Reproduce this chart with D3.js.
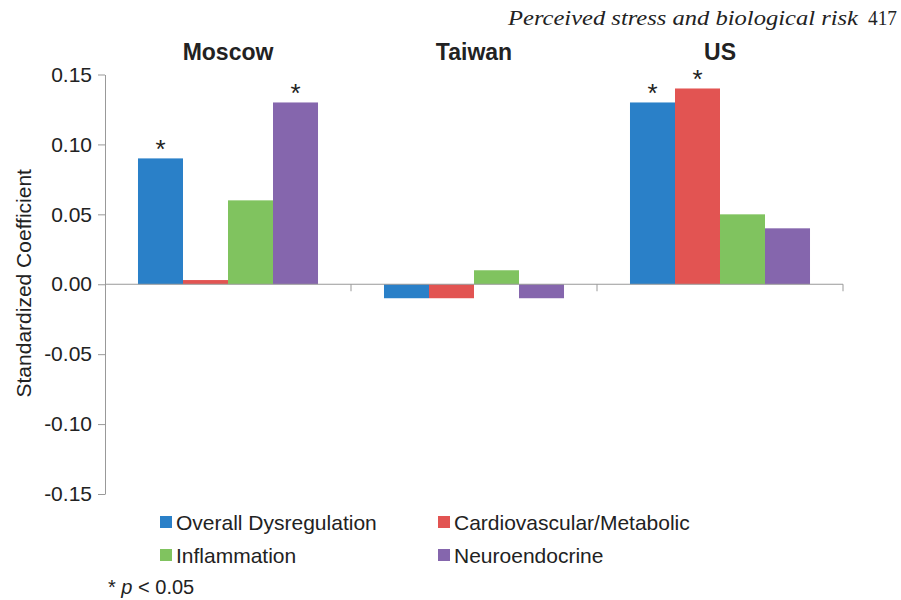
<!DOCTYPE html>
<html><head><meta charset="utf-8">
<script src="https://cdn.jsdelivr.net/npm/d3@7"></script>
<style>body{margin:0;background:#fff}</style>
</head><body>
<svg id="c" width="901" height="600"></svg>
<script>
const groups = ["Moscow", "Taiwan", "US"];
const seriesNames = ["Overall Dysregulation", "Cardiovascular/Metabolic", "Inflammation", "Neuroendocrine"];
const overall = [0.09, -0.01, 0.13];
const cardio = [0.003, -0.01, 0.14];
const inflam = [0.06, 0.01, 0.05];
const neuro = [0.13, -0.01, 0.04];
const significant = [[true, false, false, true], [false, false, false, false], [true, true, false, false]];
const yTicks = [0.15, 0.10, 0.05, 0.00, -0.05, -0.10, -0.15];
const colors = ["#2a80c8", "#e25452", "#80c35f", "#8566ad"];

(function () {
const series = [overall, cardio, inflam, neuro];
const svg = d3.select("#c");
const mLeft = 105, mRight = 843, mTop = 74.5, mBottom = 494;
const sans = "Liberation Sans, Arial, sans-serif";
const ink = "#222";

const y = d3.scaleLinear().domain([-0.15, 0.15]).range([mBottom, mTop]);
const x0 = d3.scaleBand().domain(groups).range([mLeft, mRight]).padding(0);
const x1 = d3.scaleBand().domain(d3.range(4)).range([0, x0.bandwidth()]).paddingInner(0).paddingOuter(0.733);

// header
svg.append("text").attr("x", 508).attr("y", 25)
  .attr("font-family", "Liberation Serif, Times New Roman, serif").attr("font-style", "italic")
  .attr("font-size", 22).attr("fill", ink)
  .attr("textLength", 350).attr("lengthAdjust", "spacingAndGlyphs")
  .text("Perceived stress and biological risk");
svg.append("text").attr("x", 868).attr("y", 25)
  .attr("font-family", "Liberation Serif, Times New Roman, serif")
  .attr("font-size", 22).attr("fill", ink)
  .attr("textLength", 29).attr("lengthAdjust", "spacingAndGlyphs").text("417");

// group titles
svg.selectAll(".gt").data(groups).enter().append("text")
  .attr("x", d => x0(d) + x0.bandwidth() / 2).attr("y", 60)
  .attr("text-anchor", "middle").attr("font-family", sans).attr("font-weight", "bold")
  .attr("font-size", 23).attr("fill", ink).text(d => d);

// bars
const data = [];
groups.forEach((g, gi) => series.forEach((s, si) => data.push({g, gi, si, v: s[gi], sig: significant[gi][si]})));
svg.selectAll(".bar").data(data).enter().append("rect")
  .attr("x", d => x0(d.g) + x1(d.si))
  .attr("width", x1.bandwidth())
  .attr("y", d => y(Math.max(0, d.v)))
  .attr("height", d => Math.abs(y(d.v) - y(0)))
  .attr("fill", d => colors[d.si]);

// asterisks
svg.selectAll(".ast").data(data.filter(d => d.sig)).enter().append("text")
  .attr("x", d => x0(d.g) + x1(d.si) + x1.bandwidth() / 2)
  .attr("y", d => y(d.v) - 0)
  .attr("text-anchor", "middle").attr("font-family", sans).attr("font-size", 26)
  .attr("fill", ink).text("*");

// y axis
const yAxis = d3.axisLeft(y).tickValues(yTicks).tickFormat(d => d3.format(".2f")(d).replace("\u2212", "-")).tickSize(7).tickSizeOuter(0);
const ya = svg.append("g").attr("transform", `translate(${mLeft},0)`).call(yAxis);
ya.select(".domain").attr("stroke", "#999");
ya.selectAll(".tick line").attr("stroke", "#999");
ya.selectAll(".tick text").attr("font-family", sans).attr("font-size", 21).attr("fill", ink).attr("x", -13);

// x axis at zero
const xa = svg.append("g").attr("transform", `translate(0,${y(0)})`);
xa.append("line").attr("x1", mLeft).attr("x2", mRight).attr("stroke", "#999");
xa.selectAll(".xt").data(groups).enter().append("line")
  .attr("x1", d => x0(d) + x0.bandwidth()).attr("x2", d => x0(d) + x0.bandwidth())
  .attr("y1", 0).attr("y2", 7).attr("stroke", "#999");

// y title
svg.append("text").attr("transform", `translate(31,${y(0) - 1}) rotate(-90)`)
  .attr("text-anchor", "middle").attr("font-family", sans).attr("font-size", 21)
  .attr("fill", ink).text("Standardized Coefficient");

// legend
const lg = svg.selectAll(".lg").data(seriesNames).enter().append("g")
  .attr("transform", (d, i) => `translate(${160 + (i % 2) * 278},${516 + Math.floor(i / 2) * 33})`);
lg.append("rect").attr("width", 12).attr("height", 12).attr("fill", (d, i) => colors[i]);
lg.append("text").attr("x", 16).attr("y", 14).attr("font-family", sans).attr("font-size", 21)
  .attr("fill", ink).text(d => d);

// footnote
const fn = svg.append("text").attr("x", 108).attr("y", 594).attr("font-family", sans).attr("font-size", 20).attr("fill", ink);
fn.append("tspan").text("* ");
fn.append("tspan").attr("font-style", "italic").text("p");
fn.append("tspan").text(" < 0.05");
})();
</script>
</body></html>
